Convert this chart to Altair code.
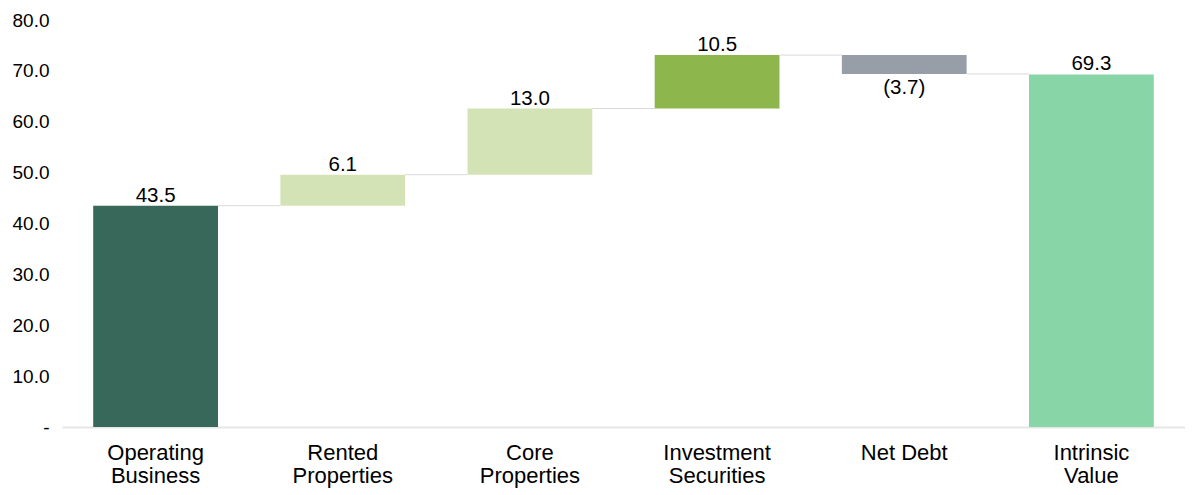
import altair as alt
import pandas as pd

categories = ["Operating Business", "Rented Properties", "Core Properties",
              "Investment Securities", "Net Debt", "Intrinsic Value"]
values = [43.5, 6.1, 13.0, 10.5, -3.7, 69.3]
kinds = ["total", "step", "step", "step", "step", "total"]
colors = ["#38685A", "#D3E3B6", "#D3E3B6", "#8DB64C", "#979EA8", "#88D5A8"]

rows = []
cum = 0.0
for i, (c, v, k, col) in enumerate(zip(categories, values, kinds, colors)):
    if k == "total":
        start, end = 0.0, v
    else:
        start, end = cum, cum + v
    cum = end
    label = f"({abs(v):.1f})" if v < 0 else f"{v:.1f}"
    rows.append(dict(cat=c, start=start, end=end, value=v, label=label,
                     color=col, order=i,
                     nxt=categories[i + 1] if i + 1 < len(categories) else None))
df = pd.DataFrame(rows)

FONT = "Liberation Sans"
xenc = alt.X("cat:N", sort=categories, title=None,
             scale=alt.Scale(paddingInner=0.3333, paddingOuter=0.1667),
             axis=alt.Axis(labelAngle=0, labelFont=FONT, labelFontSize=22,
                           labelColor="#000000", ticks=False, domainColor="#e6e6e6",
                           domainWidth=2, labelPadding=15, labelLineHeight=23,
                           labelBaseline="top",
                           labelExpr="datum.label == 'Net Debt' ? datum.label : split(datum.label, ' ')"))
yscale = alt.Scale(domain=[0, 80])
yaxis = alt.Axis(values=[0, 10, 20, 30, 40, 50, 60, 70, 80], grid=False, domain=False,
                 ticks=False, labelFont=FONT, labelFontSize=19, labelColor="#000000",
                 labelPadding=13,
                 labelExpr="datum.value == 0 ? '-' : format(datum.value, '.1f')")

base = alt.Chart(df)

conn = alt.Chart(df[df["nxt"].notna()]).mark_rule(color="#d9d9d9", strokeWidth=1).encode(
    x=alt.X("cat:N", sort=categories, bandPosition=1),
    x2=alt.X2("nxt:N", bandPosition=0),
    y=alt.Y("end:Q", scale=yscale),
)

bars = base.mark_bar().encode(
    x=xenc,
    y=alt.Y("start:Q", scale=yscale, axis=yaxis, title=None),
    y2="end:Q",
    color=alt.Color("color:N", scale=None),
)

pos_text = base.transform_filter("datum.value >= 0").mark_text(
    font=FONT, fontSize=20.5, color="#000000", baseline="alphabetic", dy=-4
).encode(x=alt.X("cat:N", sort=categories), y=alt.Y("end:Q", scale=yscale), text="label:N")

neg_text = base.transform_filter("datum.value < 0").mark_text(
    font=FONT, fontSize=20.5, color="#000000", baseline="top", dy=4
).encode(x=alt.X("cat:N", sort=categories), y=alt.Y("end:Q", scale=yscale), text="label:N")

chart = alt.layer(bars, conn, pos_text, neg_text).properties(
    width=1123, height=407,
    autosize=alt.AutoSizeParams(type="none"),
    padding={"left": 54, "top": 12, "right": 0, "bottom": 66},
    background="#ffffff",
).configure_view(stroke=None, strokeWidth=0)

chart.save("out.html", embed_options={"renderer": "svg", "actions": False})
